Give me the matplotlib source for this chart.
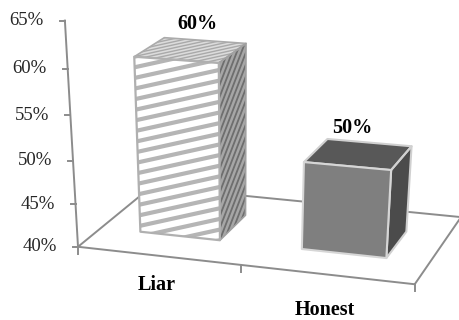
import numpy as np
import matplotlib.pyplot as plt
from matplotlib.patches import Polygon

plt.rcParams['font.family'] = ['Liberation Serif', 'DejaVu Serif']

categories = ['Liar', 'Honest']
values = [60, 50]
value_labels = ['60%', '50%']
y_ticks = [40, 45, 50, 55, 60, 65]
y_tick_labels = ['40%', '45%', '50%', '55%', '60%', '65%']

y_min, y_max = 40, 65
bar_width = 0.5
z_front, z_back = 0.3, 0.7

# perspective camera: (category x, normalised height, depth z, 1) -> pixel
camera = np.array([
    [155.891, -18.0303, 88.1167, 78.0],
    [10.1844, -227.769, -42.0968, 246.782],
    [-0.0300703, -0.0759599, 0.0967562, 1.0]])


def project(x, val, z):
    h = (val - y_min) / (y_max - y_min)
    p = camera @ np.array([x, h, z, 1.0])
    return p[0] / p[2], p[1] / p[2]


def face(ax, pts, fc, ec, lw=1.2, z=2):
    poly = Polygon(pts, closed=True, facecolor=fc, edgecolor='none', zorder=z)
    ax.add_patch(poly)
    edge = Polygon(pts, closed=True, facecolor='none', edgecolor=ec, lw=lw,
                   joinstyle='round', zorder=z + 0.2)
    ax.add_patch(edge)
    return poly


def stripes(ax, poly, slope, gap, color, lw, z):
    # parallel lines in pixel space, clipped to a face
    pts = poly.get_xy()
    d = np.array([1.0, slope]) / np.hypot(1.0, slope)
    n = np.array([-d[1], d[0]])
    offs = pts @ n
    for k in np.arange(offs.min() - gap, offs.max() + gap, gap):
        c = k * n
        a, b = c - 600 * d, c + 600 * d
        ln, = ax.plot([a[0], b[0]], [a[1], b[1]], color=color, lw=lw,
                      solid_capstyle='butt', zorder=z)
        ln.set_clip_path(poly)


fig = plt.figure(figsize=(4.6, 3.2), dpi=100)
ax = fig.add_axes([0, 0, 1, 1])
ax.set_xlim(0, 460)
ax.set_ylim(320, 0)
ax.axis('off')

axis_col = '#8c8c8c'
n_cat = len(categories)

# floor
floor = [project(0, y_min, 0), project(n_cat, y_min, 0),
         project(n_cat, y_min, 1), project(0, y_min, 1)]
ax.add_patch(Polygon(floor, closed=True, facecolor='white', edgecolor=axis_col,
                     lw=1.4, zorder=1))
for i in range(n_cat + 1):
    x0, y0 = project(i, y_min, 0)
    ax.plot([x0, x0], [y0, y0 + 7], color=axis_col, lw=1.4, zorder=1)

# value axis
xa, ya = project(0, y_min, 0)
xb, yb = project(0, y_max, 0)
ax.plot([xa, xb], [ya, yb], color=axis_col, lw=1.4, zorder=5)
for t, lab in zip(y_ticks, y_tick_labels):
    tx, ty = project(0, t, 0)
    ax.plot([tx - 5, tx], [ty, ty], color=axis_col, lw=1.4, zorder=5)
    ax.text(tx - 21, ty, lab, ha='right', va='center', fontsize=13.5,
            color='#262626')


def box(i, val):
    x0, x1 = i + 0.5 - bar_width / 2, i + 0.5 + bar_width / 2
    front = [project(x0, y_min, z_front), project(x1, y_min, z_front),
             project(x1, val, z_front), project(x0, val, z_front)]
    side = [project(x1, y_min, z_front), project(x1, y_min, z_back),
            project(x1, val, z_back), project(x1, val, z_front)]
    top = [project(x0, val, z_front), project(x1, val, z_front),
           project(x1, val, z_back), project(x0, val, z_back)]
    return front, side, top


# Liar: striped box
front, side, top = box(0, values[0])
p = face(ax, top, '#dcdcdc', '#ababab', z=2)
stripes(ax, p, -0.22, 3.0, '#a9a9a9', 1.0, 2.1)
p = face(ax, side, '#a6a6a6', '#a0a0a0', z=2)
stripes(ax, p, -2.6, 4.3, '#6e6e6e', 1.3, 2.1)
p = face(ax, front, 'white', '#b0b0b0', lw=1.6, z=3)
stripes(ax, p, -0.22, 10.4, '#b5b5b5', 3.0, 3.1)

# Honest: solid grey box
front, side, top = box(1, values[1])
face(ax, top, '#585858', '#d0d0d0', lw=1.5, z=2)
face(ax, side, '#4b4b4b', '#d0d0d0', lw=1.5, z=2)
face(ax, front, '#7f7f7f', '#d6d6d6', lw=1.5, z=3)

# value labels above the boxes and category labels under the floor
for i, (val, lab) in enumerate(zip(values, value_labels)):
    lx, ly = project(i + 0.5, val, (z_front + z_back) / 2)
    ax.text(lx + 7 - 13 * i, ly - 26, lab, ha='center', va='center',
            fontsize=14.5, fontweight='bold', color='black')
for i, cat in enumerate(categories):
    cx, cy = project(i + 0.5, y_min, 0)
    ax.text(cx - 2, cy + 29 + 7 * i, cat, ha='center', va='center',
            fontsize=14.5, fontweight='bold', color='black')

fig.savefig('out.png')
